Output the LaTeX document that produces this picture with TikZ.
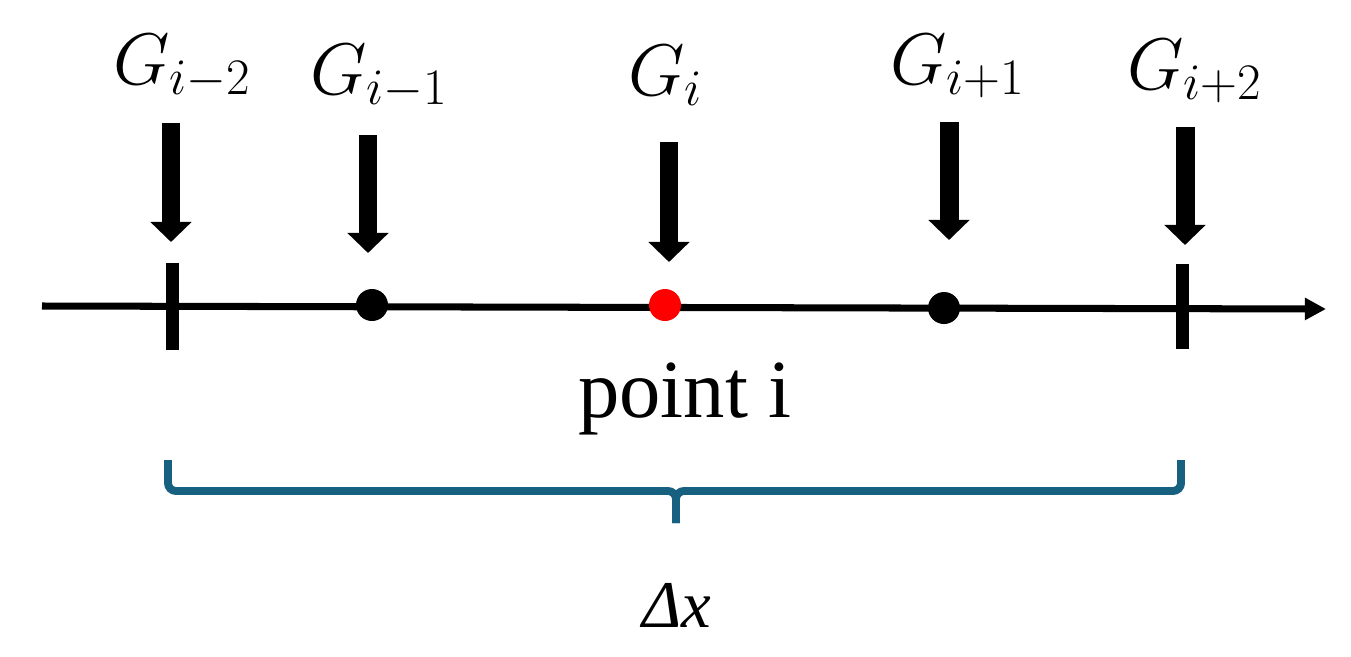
\RequirePackage{fix-cm}
\documentclass[tikz,border=0pt]{standalone}
\usepackage{amsmath}
\usepackage[no-math]{fontspec}
\usetikzlibrary{arrows.meta}
\newfontfamily\timesfont{Liberation Serif}
\definecolor{bracecol}{RGB}{23,96,128}

\begin{document}
\begin{tikzpicture}[
            x=0.02cm, y=-0.02cm,
            load arrow/.style={line width=10.8pt, -{Triangle[width=22.8pt, length=11.4pt]}},
            axis line/.style={line width=4pt, -{Triangle[width=12pt, length=12pt]}},
            end mark/.style={line width=7.4pt},
            grid point/.style={circle, fill, inner sep=0pt, minimum size=0.64cm},
            G label/.style={anchor=base west, inner sep=0pt, font=\fontsize{41.6}{50}\selectfont},
            brace line/.style={line width=4.5pt, bracecol, rounded corners=0.16cm}
        ]

            \useasboundingbox (0,0) rectangle (1351,656);

            % axis
            \coordinate (L) at (42,306);
            \coordinate (R) at (1326,309);
            \draw[axis line] (L) -- (R);

            % end marks and grid points
            \draw[end mark] (172,263) coordinate (T1) -- (172,350) coordinate (T1b);
            \draw[end mark] (1182,264) coordinate (T2) -- (1182,349) coordinate (T2b);
            \node[grid point] (Pm) at (372,305) {};
            \node[grid point, red] (P) at (665,305) {};
            \node[grid point] (Pp) at (944,308) {};

            % arrows
            \coordinate (Amm) at (171,123);
            \coordinate (Am) at (368,135);
            \coordinate (A) at (669,142);
            \coordinate (Ap) at (949,122);
            \coordinate (App) at (1185,127);
            \draw[load arrow] (Amm) -- ++(0,119) coordinate (Bmm);
            \draw[load arrow] (Am) -- ++(0,118) coordinate (Bm);
            \draw[load arrow] (A) -- ++(0,120) coordinate (B);
            \draw[load arrow] (Ap) -- ++(0,118) coordinate (Bp);
            \draw[load arrow] (App) -- ++(0,118) coordinate (Bpp);

            \node[G label] (Gmm) at (113,84) {$G_{i-2}$};
            \node[G label] (Gm) at (310,94) {$G_{i-1}$};
            \node[G label] (G) at (628,95) {$G_{i}$};
            \node[G label] (Gp) at (890,84) {$G_{i+1}$};
            \node[G label] (Gpp) at (1127,89) {$G_{i+2}$};

            \node[anchor=base, inner sep=0pt, font=\timesfont\fontsize{47}{56}\selectfont] (pt) at (685,417) {point i};

            % brace
            \coordinate (C1) at (168,460);
            \coordinate (C2) at (1181,460);
            \coordinate (M) at (676,491);
            \coordinate (Mb) at (676,523);
            \draw[brace line] (C1) |- (M) -- (Mb);
            \draw[brace line] (C2) |- (M) -- (Mb);

            \node[anchor=base, inner sep=0pt, font=\timesfont\itshape\fontsize{38}{46}\selectfont] (dx) at (677,627) {Δx};
        \end{tikzpicture}
\end{document}
